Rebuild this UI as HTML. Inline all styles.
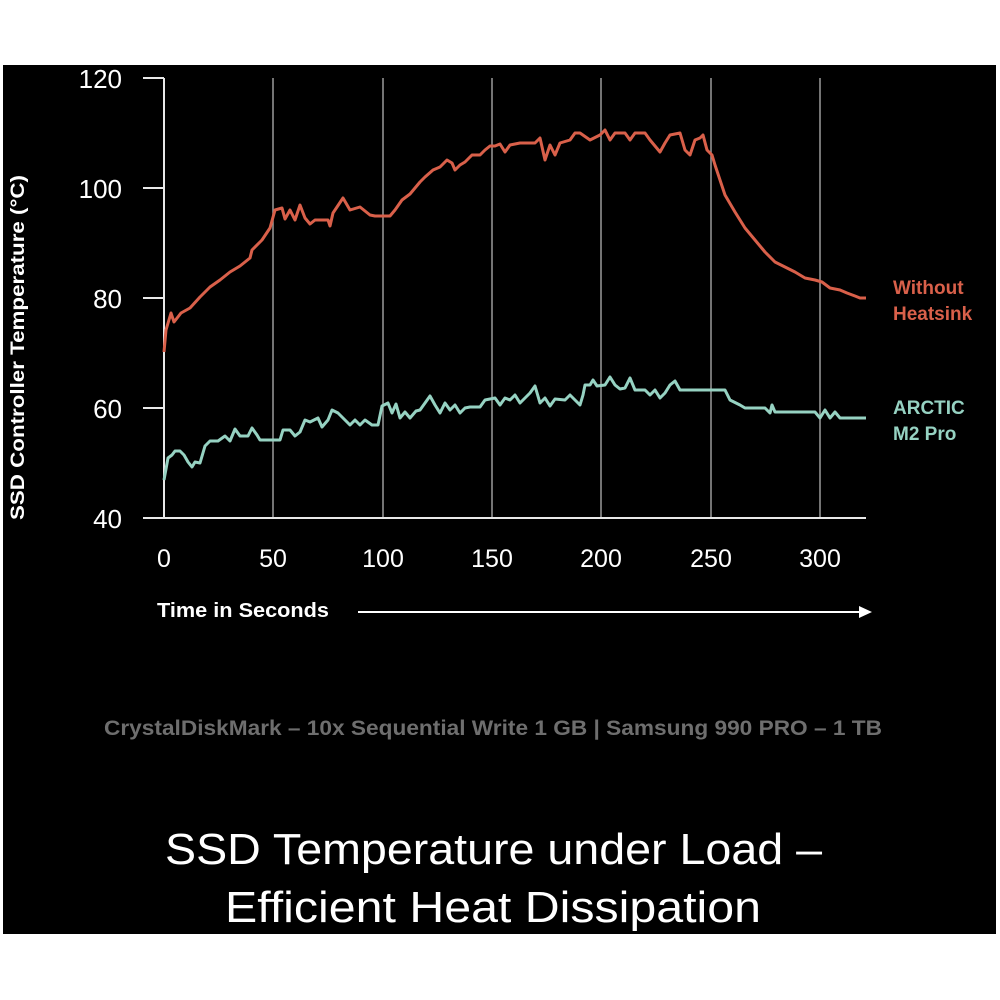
<!DOCTYPE html>
<html><head><meta charset="utf-8"><style>
html,body{margin:0;padding:0;background:#fff;width:1000px;height:1000px;overflow:hidden}
svg{display:block}
text{font-family:"Liberation Sans","DejaVu Sans",sans-serif}
</style></head><body>
<svg width="1000" height="1000" viewBox="0 0 1000 1000" xmlns="http://www.w3.org/2000/svg">
<rect x="0" y="0" width="1000" height="1000" fill="#fff"/>
<rect x="3" y="65" width="993" height="869" fill="#000"/>
<g stroke="#9a9a9a" stroke-width="1.5">
<line x1="273" y1="78" x2="273" y2="518"/><line x1="383" y1="78" x2="383" y2="518"/>
<line x1="492" y1="78" x2="492" y2="518"/><line x1="601" y1="78" x2="601" y2="518"/>
<line x1="711" y1="78" x2="711" y2="518"/><line x1="820" y1="78" x2="820" y2="518"/>
</g>
<g stroke="#e8e8e8" stroke-width="2">
<line x1="164" y1="78" x2="164" y2="518"/><line x1="164" y1="518" x2="866" y2="518"/>
<line x1="143" y1="78" x2="164" y2="78"/><line x1="143" y1="188" x2="164" y2="188"/>
<line x1="143" y1="298" x2="164" y2="298"/><line x1="143" y1="408" x2="164" y2="408"/>
<line x1="143" y1="518" x2="164" y2="518"/>
</g>
<g fill="#fff" font-size="26" text-anchor="end">
<text x="122" y="88">120</text><text x="122" y="198">100</text><text x="122" y="308">80</text>
<text x="122" y="418">60</text><text x="122" y="528">40</text>
</g>
<g fill="#fff" font-size="25" text-anchor="middle">
<text x="164" y="567">0</text><text x="273" y="567">50</text><text x="383" y="567">100</text>
<text x="492" y="567">150</text><text x="601" y="567">200</text><text x="711" y="567">250</text><text x="820" y="567">300</text>
</g>
<text x="0" y="0" fill="#fff" font-size="19" font-weight="bold" textLength="345" lengthAdjust="spacingAndGlyphs" transform="translate(24,520) rotate(-90)">SSD Controller Temperature (°C)</text>
<text x="157" y="617" fill="#fff" font-size="20" font-weight="bold" textLength="172" lengthAdjust="spacingAndGlyphs">Time in Seconds</text>
<line x1="358" y1="612" x2="862" y2="612" stroke="#fff" stroke-width="2"/>
<polygon points="872,612 859,606 859,618" fill="#fff"/>
<polyline fill="none" stroke="#d9604a" stroke-width="3" stroke-linejoin="round" points="164,352 166,330 171,313 174,322 181,313 190,308 200,297 210,287 220,280 230,272 240,266 250,258 252,250 262,240 270,228 275,210 282,208 285,219 290,210 295,220 300,205 305,218 310,224 315,220 328,220 330,226 333,213 343,198 350,210 360,207 370,215 375,216 390,216 395,210 402,200 410,194 420,182 425,177 433,170 440,167 447,160 452,163 455,170 460,165 465,162 472,155 480,155 485,150 490,146 495,146 500,144 505,152 510,145 520,143 535,143 540,138 545,160 550,145 555,155 560,143 570,140 575,133 580,133 590,140 600,135 605,130 610,140 615,133 625,133 630,140 635,133 645,133 650,140 660,152 665,143 670,135 680,133 685,150 690,155 695,140 700,138 703,135 707,150 712,155 715,165 720,180 725,195 735,212 745,228 755,240 765,252 775,262 785,267 795,272 805,278 815,280 822,282 830,288 840,290 847,293 855,296 860,298 866,298"/>
<polyline fill="none" stroke="#96d2c2" stroke-width="3" stroke-linejoin="round" points="164,480 168,458 172,455 175,451 180,451 184,455 188,462 192,467 195,462 200,463 205,446 210,441 218,441 225,436 230,441 235,429 240,436 248,436 252,428 257,435 260,440 280,440 283,430 290,430 295,436 300,432 305,420 310,422 318,418 322,427 328,420 332,410 338,413 345,420 350,425 355,420 360,425 365,420 372,425 378,425 382,406 388,403 392,413 396,404 400,418 405,412 410,418 416,411 420,410 425,403 430,396 435,405 440,413 445,403 450,410 455,405 460,413 465,408 470,407 480,407 485,400 495,398 500,405 505,398 510,400 515,395 520,403 530,393 535,386 540,403 545,398 550,406 555,399 565,400 570,395 575,400 580,405 583,395 585,385 590,385 593,380 597,386 605,385 610,377 615,385 620,389 625,388 630,378 635,390 645,390 650,395 655,390 660,398 665,393 670,385 675,381 680,390 685,390 725,390 730,400 740,405 745,408 765,408 770,413 772,405 775,412 815,412 820,418 825,410 830,418 835,412 840,418 866,418"/>
<g font-size="19" font-weight="bold">
<text x="893" y="294" fill="#d9604a">Without</text><text x="893" y="320" fill="#d9604a">Heatsink</text>
<text x="893" y="414" fill="#96d2c2">ARCTIC</text><text x="893" y="440" fill="#96d2c2">M2 Pro</text>
</g>
<text x="104" y="735" fill="#6e6e6e" font-size="21" font-weight="bold" textLength="778" lengthAdjust="spacingAndGlyphs">CrystalDiskMark – 10x Sequential Write 1 GB | Samsung 990 PRO – 1 TB</text>
<text x="165" y="864" fill="#fff" font-size="44" textLength="657" lengthAdjust="spacingAndGlyphs">SSD Temperature under Load –</text>
<text x="225" y="922" fill="#fff" font-size="44" textLength="536" lengthAdjust="spacingAndGlyphs">Efficient Heat Dissipation</text>
</svg>
</body></html>
